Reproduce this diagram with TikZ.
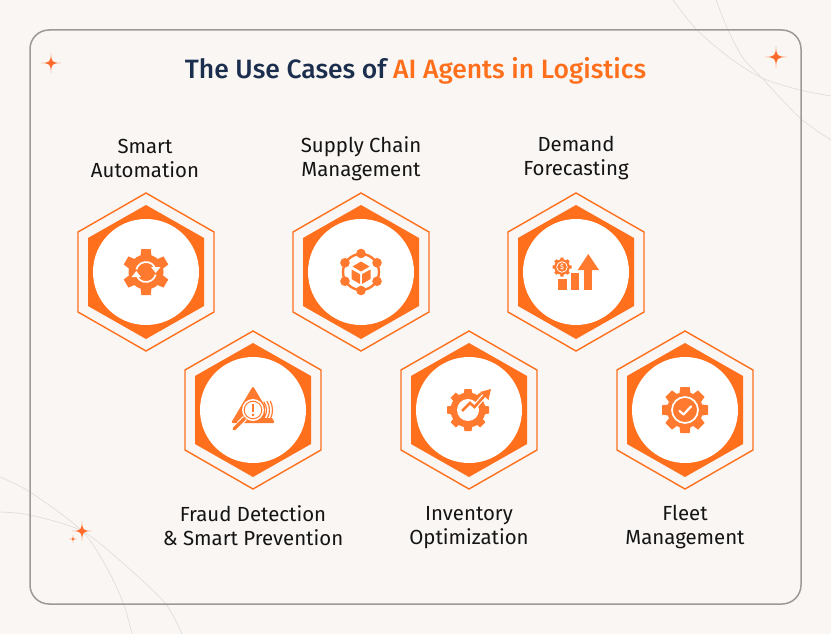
\documentclass[tikz,border=0pt]{standalone}
\usepackage{fontspec}
\setmainfont[BoldFont={Fira Sans Medium}]{Fira Sans}
\usetikzlibrary{arrows.meta}
\definecolor{bgc}{HTML}{F9F6F3}
\definecolor{framec}{HTML}{9C9A98}
\definecolor{hexc}{HTML}{FF6F1C}
\definecolor{iconc}{HTML}{FF7A2E}
\definecolor{navyc}{HTML}{1B2E4E}
\definecolor{arcc}{HTML}{DEDCDA}
\definecolor{starc}{HTML}{FF6A2A}
\tikzset{
  x=1pt,y=-1pt,
  labeltext/.style={align=center,text=black!92,font=\fontsize{20.4}{24}\selectfont,inner sep=0pt},
  outerhex/.style={draw=hexc,line width=1.4pt,fill=none},
  innerhex/.style={fill=hexc},
  whitedisc/.style={fill=white},
  iconfill/.style={fill=iconc},
  thinarc/.style={draw=arcc,line width=0.6pt},
  sparkle/.style={fill=starc},
}
\newcommand{\hexbadge}[3]{%
  \coordinate (#1) at (#2,#3);
  \path[outerhex,draw] (#2,#3-79) -- (#2+68,#3-40) -- (#2+68,#3+40) -- (#2,#3+79) -- (#2-68,#3+40) -- (#2-68,#3-40) -- cycle;
  \path[innerhex] (#2,#3-67) -- (#2+58,#3-34) -- (#2+58,#3+34) -- (#2,#3+67) -- (#2-58,#3+34) -- (#2-58,#3-34) -- cycle;
  \path[whitedisc] (#2,#3) circle[radius=53pt];
}
% gear: n teeth, body radius, tip radius, half width of tooth, start angle
\newcommand{\geartwo}[5]{%
  \fill[iconc] (0,0) circle[radius=#2pt];
  \pgfmathsetmacro{\gearstep}{360/#1}
  \foreach \gi in {1,...,#1}{%
    \pgfmathsetmacro{\gearang}{#5+\gi*\gearstep}
    \fill[iconc,rotate=\gearang] (-#4,-#2+1) -- (-#4*0.85,-#3) -- (#4*0.85,-#3) -- (#4,-#2+1) -- cycle;
  }%
}
\newcommand{\sparkstar}[3]{% x y size
  \fill[sparkle] (#1,#2-#3) .. controls (#1+0.04*#3,#2-0.1*#3) and (#1+0.1*#3,#2-0.04*#3) .. (#1+#3,#2)
     .. controls (#1+0.1*#3,#2+0.04*#3) and (#1+0.04*#3,#2+0.1*#3) .. (#1,#2+#3)
     .. controls (#1-0.04*#3,#2+0.1*#3) and (#1-0.1*#3,#2+0.04*#3) .. (#1-#3,#2)
     .. controls (#1-0.1*#3,#2-0.04*#3) and (#1-0.04*#3,#2-0.1*#3) .. (#1,#2-#3) -- cycle;
}
\begin{document}
\begin{tikzpicture}
\useasboundingbox (0,0) rectangle (831,634);
\fill[bgc] (0,0) rectangle (831,634);
% background arcs
\draw[thinarc] plot[smooth] coordinates {(0,477) (30,492) (82,531) (108,570) (124,605) (132,634)};
\draw[thinarc] plot[smooth] coordinates {(0,512) (30,515) (82,531) (125,565) (165,603) (182,634)};
\draw[thinarc] plot[smooth] coordinates {(673,0) (697,30) (730,58) (762,78) (800,90) (831,96)};
\draw[thinarc] plot[smooth] coordinates {(716,0) (728,30) (743,58) (762,78) (800,118) (831,140)};
% frame
\draw[draw=framec,line width=1.5pt,rounded corners=19pt] (30,30) rectangle (801,604);
% sparkles
\sparkstar{51}{63}{10}
\sparkstar{776}{57}{11}
\sparkstar{82}{531}{10}
\sparkstar{73}{539}{4}
% title
\node[inner sep=0pt,font=\fontsize{26.5}{30}\selectfont\bfseries] (title) at (415.5,71) {\textcolor{navyc}{The Use Cases of }\textcolor{hexc}{AI Agents in Logistics}};
% labels
\node[labeltext] (l1) at (145,158) {Smart\\Automation};
\node[labeltext] (l2) at (361,158.5) {Supply Chain\\Management};
\node[labeltext] (l3) at (576,158.5) {Demand\\Forecasting};
\node[labeltext] (l4) at (253,525.5) {Fraud Detection\\\&~Smart Prevention};
\node[labeltext] (l5) at (469,528) {Inventory\\Optimization};
\node[labeltext] (l6) at (685,527.5) {Fleet\\Management};
% badges
\hexbadge{a}{146}{272}
\hexbadge{b}{361}{272}
\hexbadge{c}{576}{272}
\hexbadge{d}{253}{410}
\hexbadge{e}{469}{410}
\hexbadge{f}{685}{410}
% icon 1
\begin{scope}[shift={(a)}]
  \geartwo{6}{17.5}{23}{5.5}{0}
  \draw[white,line width=1.7pt] (165:10pt) arc[start angle=165,end angle=30,radius=10pt];
  \fill[white] (5pt,5pt) -- (14.5pt,5pt) -- (9.7pt,-1pt) -- cycle;
  \draw[white,line width=1.7pt] (-15:10pt) arc[start angle=-15,end angle=-150,radius=10pt];
  \fill[white] (-5pt,-5pt) -- (-14.5pt,-5pt) -- (-9.7pt,1pt) -- cycle;
\end{scope}
% icon 2
\begin{scope}[shift={(b)}]
  \draw[iconc,line width=2.4pt] (0,0) circle[radius=18pt];
  \foreach \ang in {30,90,150,210,270,330}{\fill[iconc] (\ang:18.5pt) circle[radius=4.8pt];}
  \fill[iconc] (0,-10.5) -- (8.5,-5.5) -- (0,-0.5) -- (-8.5,-5.5) -- cycle;
  \fill[iconc] (-9.5,-2.5) -- (-1,2.2) -- (-1,12) -- (-9.5,7) -- cycle;
  \fill[iconc] (9.5,-2.5) -- (1,2.2) -- (1,12) -- (9.5,7) -- cycle;
\end{scope}
% icon 3
\begin{scope}[shift={(c)}]
  \fill[iconc] (-17.7,7) rectangle (-9.3,17.5);
  \fill[iconc] (-5,1.3) rectangle (3.3,17.5);
  \fill[iconc] (8,-2) rectangle (16.3,17.5);
  \fill[iconc] (12.3,-18) -- (23,-2) -- (1.7,-2) -- cycle;
  \begin{scope}[shift={(-14,-5)}]
    \geartwo{8}{7.8}{9.5}{1.8}{0}
    \draw[white,line width=0.8pt] (0,0) circle[radius=5.3pt];
    \node[text=white,inner sep=0pt,font=\fontsize{7}{7}\selectfont\bfseries] (dollar) at (0,0) {\$};
  \end{scope}
\end{scope}
% icon 4
\begin{scope}[shift={(d)}]
  \fill[iconc,rounded corners=2pt] (0,-24) -- (22,13) -- (-22,13) -- cycle;
  \fill[white] (0,0) circle[radius=11pt];
  \draw[iconc,line width=1pt] (0,0) circle[radius=8.8pt];
  \fill[iconc] (-1.3,-6) rectangle (1.3,2);
  \fill[iconc] (0,4.8) circle[radius=1.5pt];
  \draw[white,line width=5.5pt] (-8,8) -- (-14,14);
  \draw[iconc,line width=3.2pt,line cap=round] (-8.5,8.5) -- (-19,19);
  \fill[white] (12,-14) rectangle (23,8);
  \draw[iconc,line width=1.2pt] (-35:13.5pt) arc[start angle=-35,end angle=38,radius=13.5pt];
  \draw[iconc,line width=1.2pt] (-30:16.5pt) arc[start angle=-30,end angle=33,radius=16.5pt];
  \draw[iconc,line width=1.2pt] (-25:19.5pt) arc[start angle=-25,end angle=28,radius=19.5pt];
\end{scope}
% icon 5
\begin{scope}[shift={(e)}]
  \begin{scope}[shift={(-1,0)}]
    \geartwo{8}{17.5}{21}{4.2}{0}
    \fill[white] (0,0) circle[radius=11pt];
    \draw[white,line width=5pt] (-6,1) -- (1.5,-7) -- (6.5,-3) -- (17,-15);
    \draw[iconc,line width=2.6pt] (-6,1) -- (2,-7) -- (6.5,-3) -- (18,-16);
    \fill[iconc] (23,-21) -- (20.5,-10) -- (12,-18) -- cycle;
  \end{scope}
\end{scope}
% icon 6
\begin{scope}[shift={(f)}]
  \geartwo{8}{18}{23}{5.5}{0}
  \draw[white,line width=1.7pt] (0,0) circle[radius=13pt];
  \draw[white,line width=2.2pt,line cap=round,line join=round] (-5.5,1) -- (-1.5,4.5) -- (6,-3.5);
\end{scope}
\end{tikzpicture}
\end{document}
